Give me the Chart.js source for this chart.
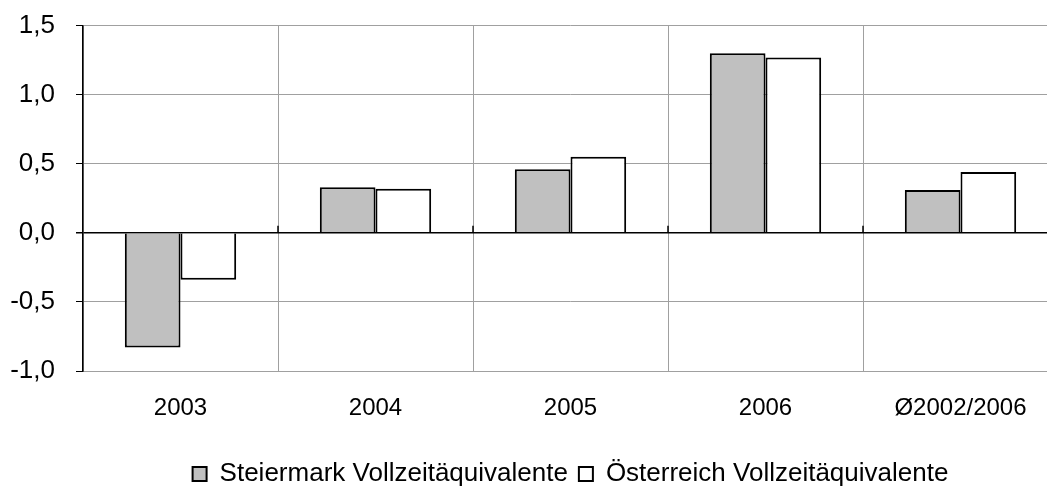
<!DOCTYPE html>
<html>
<head>
<meta charset="utf-8">
<script src="https://cdn.jsdelivr.net/npm/chart.js@4/dist/chart.umd.min.js"></script>
<style>
  html, body { margin: 0; padding: 0; background: #fff; overflow: hidden; }
  #wrap { width: 1047px; height: 489px; overflow: hidden; position: relative; }
  #box { width: 1060px; height: 508px; position: absolute; left: 0; top: -11px; }
</style>
</head>
<body>
<div id="wrap"><div id="box"><canvas id="c"></canvas></div></div>
<script>
const categories = ['2003', '2004', '2005', '2006', 'Ø2002/2006'];
const steiermark = [-0.83, 0.33, 0.46, 1.30, 0.31];
const oesterreich = [-0.34, 0.32, 0.55, 1.27, 0.44];
const seriesNames = ['Steiermark Vollzeitäquivalente', 'Österreich Vollzeitäquivalente'];
const yTicks = [-1.0, -0.5, 0.0, 0.5, 1.0, 1.5];

const FONT = "'Liberation Sans', Arial, sans-serif";

const zeroTicks = {
  id: 'zeroTicks',
  afterDatasetsDraw(chart) {
    const x = chart.scales.x, y = chart.scales.y, ctx = chart.ctx;
    const y0 = y.getPixelForValue(0);
    ctx.save();
    ctx.strokeStyle = '#000';
    ctx.lineWidth = 1.5;
    for (let i = 0; i < categories.length - 1; i++) {
      const xb = (x.getPixelForTick(i) + x.getPixelForTick(i + 1)) / 2;
      ctx.beginPath();
      ctx.moveTo(xb, y0 - 7);
      ctx.lineTo(xb, y0);
      ctx.stroke();
    }
    ctx.restore();
  }
};

new Chart(document.getElementById('c'), {
  type: 'bar',
  data: {
    labels: categories,
    datasets: [
      { label: seriesNames[0], data: steiermark, backgroundColor: '#c0c0c0', borderColor: '#000', borderWidth: 2 },
      { label: seriesNames[1], data: oesterreich, backgroundColor: '#ffffff', borderColor: '#000', borderWidth: 2 }
    ]
  },
  options: {
    responsive: true,
    maintainAspectRatio: false,
    animation: false,
    layout: { padding: { top: 12, right: 2, left: 0, bottom: 0 } },
    datasets: { bar: { categoryPercentage: 0.571, barPercentage: 1.0 } },
    plugins: {
      legend: {
        position: 'bottom',
        fullSize: false,
        labels: {
          font: { family: FONT, size: 26 },
          color: '#000',
          boxWidth: 14,
          boxHeight: 14,
          padding: 11
        }
      },
      tooltip: { enabled: false }
    },
    scales: {
      x: {
        grid: { offset: true, color: '#a0a0a0', lineWidth: 1, drawTicks: false },
        border: { color: '#a0a0a0', width: 1 },
        ticks: { font: { family: FONT, size: 24 }, color: '#000', padding: 23, maxRotation: 0 },
        afterFit(s) { s.height = 79; }
      },
      y: {
        min: -1.0,
        max: 1.5,
        afterBuildTicks(s) { s.ticks = yTicks.map(v => ({ value: v })); },
        grid: {
          color: ctx => (ctx.tick && ctx.tick.value === 0) ? '#000' : '#a0a0a0',
          lineWidth: ctx => (ctx.tick && ctx.tick.value === 0) ? 1.5 : 1,
          tickColor: '#000',
          tickLength: 7,
          drawTicks: true
        },
        border: { color: '#000', width: 1.5 },
        ticks: {
          font: { family: FONT, size: 26 },
          color: '#000',
          padding: 21,
          callback: v => Number(v).toFixed(1).replace('.', ',')
        },
        afterFit(s) { s.width = 83; }
      }
    }
  },
  plugins: [zeroTicks]
});
</script>
</body>
</html>
